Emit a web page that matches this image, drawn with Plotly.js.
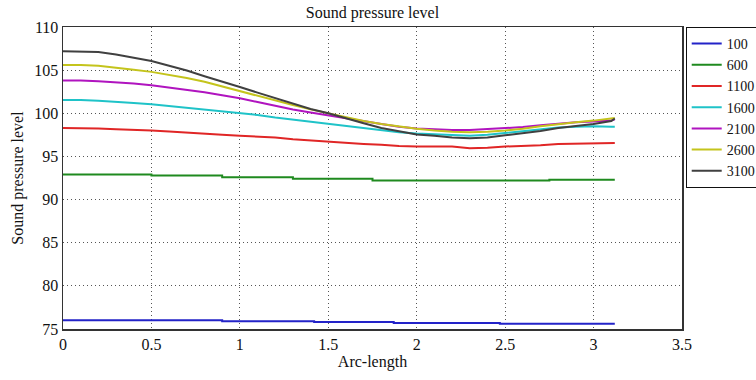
<!DOCTYPE html>
<html>
<head>
<meta charset="utf-8">
<script src="https://cdn.plot.ly/plotly-3.0.1.min.js"></script>
<style>html,body{margin:0;padding:0;background:#fff;}#chart{width:756px;height:380px;}</style>
</head>
<body>
<div id="chart"></div>
<script>
// Arc-length sample positions for the smooth series
const arcLength = [0, 0.1, 0.2, 0.3, 0.4, 0.5, 0.6, 0.7, 0.8, 0.9, 1.0, 1.1, 1.2, 1.3, 1.4, 1.5, 1.6, 1.7, 1.8, 1.9, 2.0, 2.1, 2.2, 2.3, 2.4, 2.5, 2.6, 2.7, 2.8, 2.9, 3.0, 3.1, 3.12];

// Step series (frequency 100 and 600)
const arc100 = [0, 0.9, 1.42, 1.87, 2.47, 3.12];
const spl100 = [76.0, 75.9, 75.8, 75.7, 75.6, 75.6];
const arc600 = [0, 0.5, 0.9, 1.3, 1.75, 2.75, 3.12];
const spl600 = [92.9, 92.8, 92.6, 92.4, 92.2, 92.3, 92.3];

const spl1100 = [98.3, 98.3, 98.25, 98.15, 98.1, 98.0, 97.9, 97.75, 97.65, 97.5, 97.4, 97.3, 97.2, 97.0, 96.85, 96.7, 96.55, 96.45, 96.35, 96.2, 96.15, 96.15, 96.15, 95.95, 96.0, 96.15, 96.2, 96.3, 96.45, 96.5, 96.55, 96.55, 96.55];
const spl1600 = [101.55, 101.55, 101.45, 101.35, 101.2, 101.05, 100.85, 100.65, 100.45, 100.25, 100.05, 99.8, 99.5, 99.25, 99.0, 98.75, 98.5, 98.25, 98.0, 97.8, 97.65, 97.55, 97.45, 97.4, 97.5, 97.7, 97.9, 98.1, 98.35, 98.45, 98.5, 98.45, 98.45];
const spl2100 = [103.8, 103.8, 103.7, 103.6, 103.45, 103.25, 103.0, 102.75, 102.45, 102.1, 101.75, 101.3, 100.85, 100.45, 100.1, 99.75, 99.4, 99.05, 98.75, 98.45, 98.25, 98.15, 98.05, 98.05, 98.15, 98.25, 98.4, 98.6, 98.8, 98.95, 99.05, 99.15, 99.3];
const spl2600 = [105.6, 105.6, 105.5, 105.3, 105.05, 104.8, 104.45, 104.1, 103.65, 103.1, 102.55, 102.0, 101.5, 100.95, 100.45, 100.0, 99.55, 99.1, 98.75, 98.45, 98.2, 98.0, 97.85, 97.8, 97.85, 98.0, 98.2, 98.5, 98.75, 98.95, 99.15, 99.35, 99.45];
const spl3100 = [107.2, 107.15, 107.1, 106.8, 106.45, 106.05, 105.5, 104.95, 104.3, 103.7, 103.05, 102.4, 101.75, 101.1, 100.5, 100.0, 99.4, 98.85, 98.3, 97.9, 97.55, 97.4, 97.2, 97.1, 97.2, 97.45, 97.7, 97.95, 98.3, 98.5, 98.75, 99.1, 99.4];

const seriesNames = ['100', '600', '1100', '1600', '2100', '2600', '3100'];
const xTicks = [0, 0.5, 1, 1.5, 2, 2.5, 3, 3.5];
const yTicks = [75, 80, 85, 90, 95, 100, 105, 110];

const colors = ['#2323c8', '#1f8a1f', '#e02626', '#1fc3c8', '#b014bf', '#c4c41c', '#404040'];
const xs = [arc100, arc600, arcLength, arcLength, arcLength, arcLength, arcLength];
const ys = [spl100, spl600, spl1100, spl1600, spl2100, spl2600, spl3100];

const traces = seriesNames.map((n, i) => ({
  x: xs[i], y: ys[i], name: n, type: 'scatter', mode: 'lines',
  line: {color: colors[i], width: 2, shape: i < 2 ? 'hv' : 'linear'}
}));

const font = 'Liberation Serif';
const layout = {
  width: 756, height: 380,
  margin: {l: 63, r: 74, t: 27, b: 51, autoexpand: false},
  paper_bgcolor: '#fff', plot_bgcolor: '#fff',
  font: {family: font, size: 16, color: '#111'},
  title: {text: 'Sound pressure level', x: 0.5, xref: 'paper', y: 0.968, yref: 'container', yanchor: 'middle', font: {family: font, size: 16, color: '#111'}},
  xaxis: {
    range: [0, 3.5], tickvals: xTicks, ticktext: xTicks.map(String),
    showgrid: true, gridcolor: '#555', griddash: '1px,3px', gridwidth: 1,
    zeroline: false, showline: true, linecolor: '#333', linewidth: 1.5, mirror: true,
    ticks: '', tickfont: {family: font, size: 16},
    title: {text: 'Arc-length', font: {family: font, size: 16}, standoff: 4}
  },
  yaxis: {
    range: [75, 110], tickvals: yTicks, ticktext: yTicks.map(String),
    showgrid: true, gridcolor: '#555', griddash: '1px,3px', gridwidth: 1,
    zeroline: false, showline: true, linecolor: '#333', linewidth: 1.5, mirror: true,
    ticks: '', tickfont: {family: font, size: 16},
    title: {text: 'Sound pressure level', font: {family: font, size: 16}, standoff: 6}
  },
  showlegend: true,
  legend: {
    x: 1.006, xanchor: 'left', y: 1, yanchor: 'top',
    bgcolor: '#fff', bordercolor: '#111', borderwidth: 1,
    font: {family: font, size: 14, color: '#111'},
    itemwidth: 30, tracegroupgap: 0
  }
};

Plotly.newPlot('chart', traces, layout, {staticPlot: true, displayModeBar: false});
</script>
</body>
</html>
